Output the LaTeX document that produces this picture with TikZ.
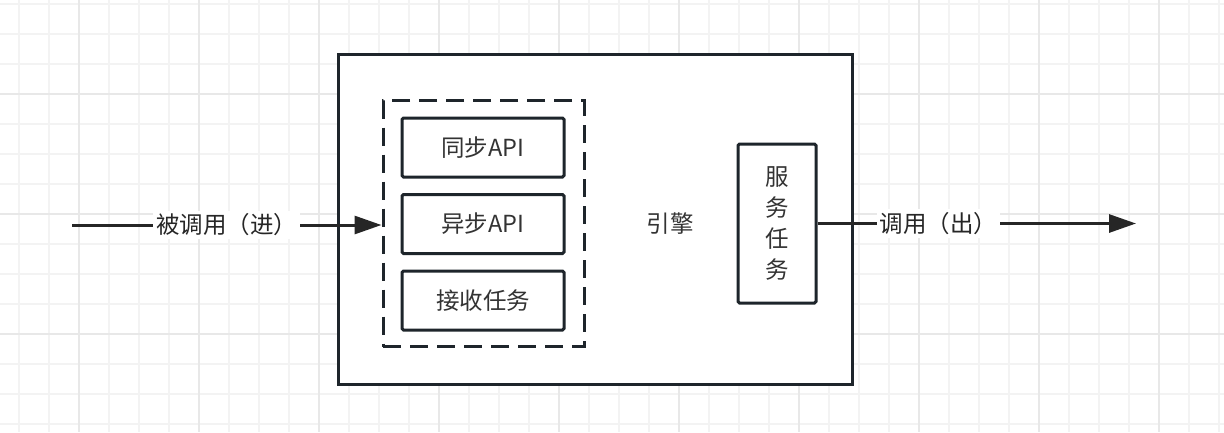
\documentclass[tikz,border=0pt]{standalone}
\usepackage{fontspec}
\newfontfamily\cjk{Noto Sans CJK SC}
\usepackage{tikz}
\usetikzlibrary{arrows.meta}
\definecolor{ink}{HTML}{1E252B}
\definecolor{gridminor}{HTML}{F3F3F3}
\definecolor{gridmajor}{HTML}{E8E8E8}

\begin{document}
\begin{tikzpicture}[x=1pt,y=-1pt,>={Triangle[length=27pt,width=18pt]},
  font=\cjk\fontsize{23.5}{31}\selectfont,text=black!80,
  box/.style={draw=ink,line width=3pt,fill=white,rounded corners=1.5pt,inner sep=0pt},
  lbl/.style={fill=white,inner sep=3pt}]
  \useasboundingbox (0,0) rectangle (1224,432);
  \fill[white] (0,0) rectangle (1224,432);
  % grid
  \foreach \x in {19,49,...,1219}
    \draw[gridminor,line width=1.5pt] (\x,0) -- (\x,432);
  \foreach \y in {4,34,...,424}
    \draw[gridminor,line width=1.5pt] (0,\y) -- (1224,\y);
  \foreach \x in {79,199,...,1159}
    \draw[gridmajor,line width=1.5pt] (\x,0) -- (\x,432);
  \foreach \y in {94,214,334}
    \draw[gridmajor,line width=1.5pt] (0,\y) -- (1224,\y);

  % engine frame
  \node[box,rounded corners=0pt,minimum width=514pt,minimum height=330pt] (engine) at (595,219) {};
  \node (enginelbl) at (670,224) {引擎};
  \node[draw=ink,line width=3pt,dash pattern=on 18pt off 9pt,
        minimum width=201pt,minimum height=246pt] (apigroup) at (483.5,223.5) {};
  \foreach \y/\name/\t in {147.5/syncapi/同步API,224/asyncapi/异步API,300.5/recvtask/接收任务}{
     \node[box,minimum width=162pt,minimum height=59pt] (\name) at (483,\y) {\t};
  }
  \node[box,minimum width=78pt,minimum height=159pt,align=center] (svctask) at (777,223.5)
     {服\\务\\任\\务};

  % in and out
  \coordinate (callin) at (72,225);
  \coordinate (callout) at (1136,223.5);
  \draw[->,line width=3pt,black!85] (callin) -- node[lbl] {被调用（进）} (callin -| apigroup.west);
  \draw[->,line width=3pt,black!85] (svctask.east) -- node[lbl,pos=0.38] {调用（出）} (callout);
\end{tikzpicture}
\end{document}
